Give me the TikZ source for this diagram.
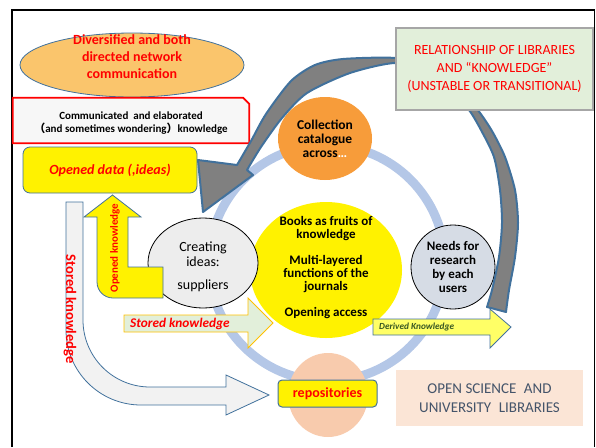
\documentclass[tikz,border=0pt]{standalone}
\usepackage{fontspec}
\setmainfont{Carlito}
\newfontfamily\cjk{Noto Sans CJK SC}
\usetikzlibrary{shapes.geometric}

\definecolor{edgeblue}{RGB}{65,113,156}
\definecolor{ringblue}{RGB}{180,199,231}
\definecolor{amber}{RGB}{250,197,108}
\definecolor{deeporange}{RGB}{247,156,58}
\definecolor{peach}{RGB}{248,203,173}
\definecolor{palepeach}{RGB}{251,229,214}
\definecolor{palegreen}{RGB}{226,239,218}
\definecolor{lightyellow}{RGB}{255,255,102}
\definecolor{steel}{RGB}{214,220,229}
\definecolor{pipegray}{RGB}{128,128,128}
\definecolor{slate}{RGB}{68,84,106}
\definecolor{olive}{RGB}{56,87,35}
\definecolor{gold}{RGB}{255,192,0}

\newcommand{\fsz}[2]{\fontsize{#1}{#2}\selectfont}

\tikzset{
  every node/.style={inner sep=0pt},
  outline/.style={draw=edgeblue, line width=0.8pt},
}

\begin{document}
\begin{tikzpicture}[x=1pt,y=1pt]
  \useasboundingbox (0,0) rectangle (596,-447);

  % frame, open at the bottom
  \draw[line width=1.4pt] (12,-447) -- (12,-10) -- (594.5,-10) -- (594.5,-447);

  % top left group
  \node[ellipse, outline, fill=amber, minimum width=224pt, minimum height=64pt] (network) at (132,-65) {};
  \node[font=\bfseries\fsz{14}{17}, text=red, align=center] (networktext) at (132,-57)
    {Diversified and both\\directed network\\communication};

  % box with one snipped corner
  \node[minimum width=236pt, minimum height=45pt] (talk) at (131,-120.5) {};
  \filldraw[draw=red, line width=1.8pt, fill=white!97!black]
    (talk.south west) -- (talk.north west) -- ([xshift=-6pt]talk.north east)
    -- ([yshift=-6pt]talk.north east) -- (talk.south east) -- cycle;
  \node[font=\bfseries\fsz{11}{13}, align=center] (talktext) at (131,-123.5)
    {Communicated\ \ and elaborated\\{\cjk （}and sometimes wondering{\cjk ）}knowledge};

  \node[rounded corners=7pt, outline, fill=yellow, minimum width=174pt, minimum height=46pt,
        font=\bfseries\itshape\fsz{14}{15}, text=red] (opendata) at (110,-170) {Opened data (,ideas)};

  % ring of the library cycle
  \draw[ringblue, line width=9pt] (327,-263) circle[radius=118];

  \node[ellipse, fill=deeporange, minimum width=94pt, minimum height=83pt] (collection) at (325,-138.5) {};
  \node[font=\bfseries\fsz{13.5}{14}, align=center] (collectiontext) at (collection)
    {Collection\\catalogue\\across{\color{white}\ldots}};

  \node[ellipse, fill=yellow, minimum width=152pt, minimum height=136pt] (books) at (326,-270) {};
  \node[font=\bfseries\fsz{13}{13}, align=center] (bookstext) at (326,-267.5)
    {Books as fruits of\\knowledge\\[13pt]Multi-layered\\functions of the\\journals\\[13pt]Opening access};

  \node[ellipse, draw, line width=0.8pt, fill=black!7, minimum width=110pt, minimum height=90pt] (creating) at (203,-263) {};
  \node[font=\fsz{14}{15}, align=center] (creatingtext) at (203,-267)
    {Creating\\ideas:\\[8pt]suppliers};

  \node[circle, draw, line width=0.8pt, fill=steel, minimum size=84pt] (needs) at (453,-267) {};
  \node[font=\bfseries\fsz{13}{14}, align=center] (needstext) at (needs)
    {Needs for\\research\\by each\\users};

  % big turning arrow round the cycle
  \filldraw[fill=pipegray, draw=edgeblue, line width=2pt, line join=round]
    plot[smooth, tension=0.45] coordinates {(506,-312) (509,-290) (515,-257) (518,-223) (515,-190)
      (505,-157) (492,-131) (477,-109) (455,-86) (425,-67) (395,-58) (343,-59) (315,-65) (291,-81)
      (266,-114) (251,-141) (237,-165)}
    -- (198,-160) -- (203,-212) -- (253,-175) -- (247,-170)
    -- plot[smooth, tension=0.45] coordinates {(247,-170) (261,-147) (282,-118) (307,-93) (350,-73)
      (395,-63) (425,-72) (449,-88) (469,-110) (481,-130) (494,-157) (500,-190) (502,-223)
      (499,-257) (492,-290) (487,-307)}
    -- cycle;

  % bottom circle
  \node[ellipse, fill=peach, minimum width=80pt, minimum height=84pt] (archive) at (328,-395) {};
  \node[rounded corners=4pt, draw=edgeblue, line width=1pt, fill=yellow, minimum width=99pt, minimum height=27pt,
        font=\bfseries\fsz{14}{15}, text=red] (repo) at (327.5,-393.5) {repositories};

  % flat arrows
  \filldraw[fill=palegreen, draw=gold, line width=0.8pt]
    (124,-315) -- (248,-315) -- (248,-298) -- (273,-323) -- (248,-348) -- (248,-332) -- (124,-332) -- cycle;
  \node[anchor=west, font=\bfseries\itshape\fsz{13.3}{14}, text=red] (storedtext) at (130,-324) {Stored knowledge};

  \filldraw[fill=lightyellow, outline]
    (373,-319) -- (490,-319) -- (490,-309) -- (511,-327) -- (490,-348) -- (490,-335) -- (373,-335) -- cycle;
  \node[anchor=west, font=\bfseries\itshape\fsz{9.3}{10}, text=olive] (derivedtext) at (379,-327.5) {Derived Knowledge};

  % bent arrow up to the opened data
  \filldraw[fill=yellow, outline]
    (163,-267) -- (128,-267) -- (128,-217) -- (141,-217) -- (112.5,-195) -- (84,-217) -- (97,-217)
    -- (97,-282) arc[start angle=180, end angle=270, radius=16] -- (163,-298) -- cycle;
  \node[rotate=90, font=\bfseries\fsz{11}{13}, text=red] (openedtext) at (115,-248) {Opened knowledge};

  % long arrow down to the repositories
  \filldraw[fill=black!5, outline]
    (66,-202) -- (66,-330) arc[start angle=180, end angle=270, radius=75] -- (226,-405) -- (226,-415)
    -- (269,-395) -- (226,-375) -- (226,-387) -- (150,-387) arc[start angle=270, end angle=180, radius=67]
    -- (83,-202) -- cycle;
  \node[rotate=-90, font=\bfseries\fsz{14.5}{15}, text=red] (storedlong) at (70,-309) {Stored knowledge};

  % captions
  \node[draw=black!35, line width=1.2pt, fill=palegreen, minimum width=197pt, minimum height=82pt,
        font=\fsz{14}{18}, text=red, align=center] (relation) at (494.5,-69)
    {RELATIONSHIP OF LIBRARIES\\AND “KNOWLEDGE”\\(UNSTABLE OR TRANSITIONAL)};

  \node[fill=palepeach, minimum width=187pt, minimum height=56pt,
        font=\fsz{15}{19}, text=slate, align=center] (openscience) at (489.5,-398)
    {OPEN SCIENCE\enskip AND\\UNIVERSITY\enskip LIBRARIES};
\end{tikzpicture}
\end{document}
